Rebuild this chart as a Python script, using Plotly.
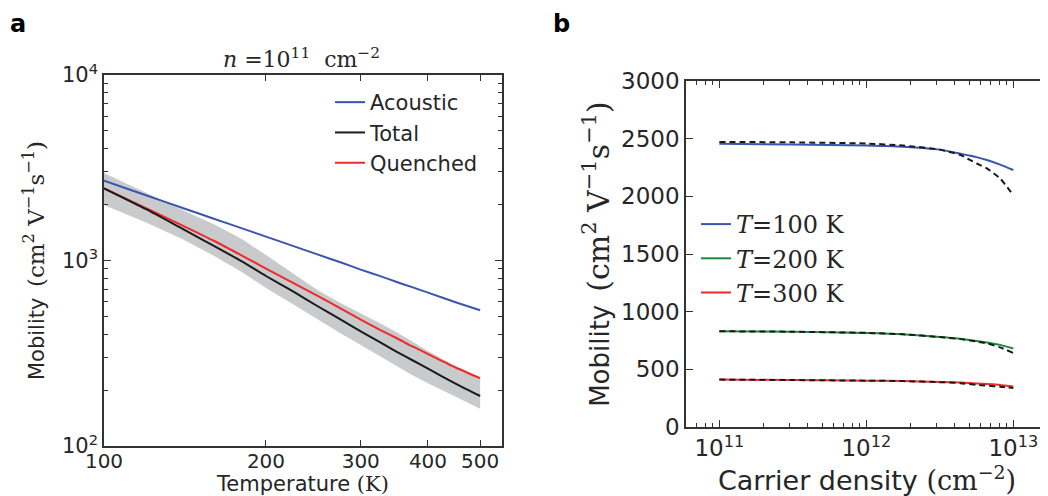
import plotly.graph_objects as go

# ---------------- Panel a data ----------------
temperature = [100, 120, 140, 160, 180, 200, 225, 250, 275, 300, 325, 350, 375, 400, 450, 500]
mu_acoustic = [2690, 2240, 1920, 1680, 1495, 1345, 1195, 1075, 978, 893, 826, 766, 716, 671, 596, 539]
mu_total = [2450, 1884, 1480, 1200, 992, 825, 679, 565, 482, 415, 364, 322, 289, 261, 217, 186]
mu_quenched = [2450, 1909, 1543, 1278, 1067, 904, 755, 643, 552, 480, 424, 381, 343, 313, 265, 232]
band_upper = [2966, 2300, 1870, 1570, 1310, 1070, 850, 690, 590, 520, 460, 410, 365, 325, 270, 235]
band_lower = [1990, 1600, 1300, 1060, 870, 710, 580, 480, 405, 350, 305, 268, 240, 218, 185, 159]

# ---------------- Panel b data ----------------
density = [1e11, 3.16e11, 1e12, 1.78e12, 3.16e12, 4.37e12, 5.62e12, 6.61e12, 8.13e12, 1e13]
mu_100K = [2455, 2450, 2440, 2430, 2405, 2370, 2340, 2315, 2275, 2228]
mu_100K_fit = [2472, 2468, 2458, 2440, 2405, 2358, 2285, 2242, 2155, 2010]
mu_200K = [830, 826, 816, 805, 781, 765, 746, 733, 712, 680]
mu_200K_fit = [830, 826, 816, 804, 780, 762, 741, 725, 690, 642]
mu_300K = [411, 407, 402, 398, 391, 385, 377, 372, 364, 351]
mu_300K_fit = [411, 407, 402, 398, 389, 380, 365, 358, 350, 338]

a_xticks = [100, 200, 300, 400, 500]
a_yticks = [100, 1000, 10000]
a_yticktext = ["10<sup>2</sup>", "10<sup>3</sup>", "10<sup>4</sup>"]
b_xticks = [1e11, 1e12, 1e13]
b_xticktext = ["10<sup>11</sup>", "10<sup>12</sup>", "10<sup>13</sup>"]
b_yticks = [0, 500, 1000, 1500, 2000, 2500, 3000]

BLUE = "#3a55b0"
RED = "#ee2a2a"
GREEN = "#1b8a3c"
BLACK = "#1a1a1a"
TXT = "#262626"
SANS = "DejaVu Sans"
SERIF = "DejaVu Serif"

OFF = 8  # page body margin
W, H = 1040, 488

fig = go.Figure()

# uncertainty band
fig.add_trace(go.Scatter(x=temperature, y=band_lower, mode="lines", line=dict(width=0),
                         showlegend=False, hoverinfo="skip", xaxis="x", yaxis="y"))
fig.add_trace(go.Scatter(x=temperature, y=band_upper, mode="lines", line=dict(width=0),
                         fill="tonexty", fillcolor="rgba(192,193,195,0.85)",
                         showlegend=False, hoverinfo="skip", xaxis="x", yaxis="y"))
fig.add_trace(go.Scatter(x=temperature, y=mu_acoustic, mode="lines", name="Acoustic",
                         line=dict(color=BLUE, width=2, shape="spline", smoothing=0.6),
                         legend="legend", legendrank=1, xaxis="x", yaxis="y"))
fig.add_trace(go.Scatter(x=temperature, y=mu_quenched, mode="lines", name="Quenched",
                         line=dict(color=RED, width=2, shape="spline", smoothing=0.6),
                         legend="legend", legendrank=3, xaxis="x", yaxis="y"))
fig.add_trace(go.Scatter(x=temperature, y=mu_total, mode="lines", name="Total",
                         line=dict(color=BLACK, width=2, shape="spline", smoothing=0.6),
                         legend="legend", legendrank=2, xaxis="x", yaxis="y"))

# panel b
series_b = [
    (mu_100K, mu_100K_fit, BLUE, "<i>T</i>=100 K"),
    (mu_200K, mu_200K_fit, GREEN, "<i>T</i>=200 K"),
    (mu_300K, mu_300K_fit, RED, "<i>T</i>=300 K"),
]
for i, (solid, dashed, col, nm) in enumerate(series_b):
    fig.add_trace(go.Scatter(x=density, y=solid, mode="lines", name=nm,
                             line=dict(color=col, width=2, shape="spline", smoothing=0.6),
                             legend="legend2", legendrank=i + 1, xaxis="x2", yaxis="y2"))
for solid, dashed, col, nm in series_b:
    fig.add_trace(go.Scatter(x=density, y=dashed, mode="lines", showlegend=False,
                             line=dict(color=BLACK, width=2, dash="6px,4px",
                                       shape="spline", smoothing=0.6),
                             xaxis="x2", yaxis="y2"))


def px_x(v):
    return (v - OFF) / W


def px_y(v):
    return 1 - (v - OFF) / H


axis_common = dict(showline=True, linecolor="#333333", linewidth=1.5, ticks="inside",
                   tickcolor="#333333", tickwidth=1.2, showgrid=False, zeroline=False,
                   automargin=False)


def mob_title(size):
    return ('Mobility\u2002<span style="font-family:%s;font-size:%dpx">(cm<sup>2</sup> '
            'V<sup>−1</sup>s<sup>−1</sup>)</span>' % (SERIF, size))


fig.update_layout(
    width=W, height=H,
    margin=dict(l=0, r=0, t=0, b=0),
    paper_bgcolor="white", plot_bgcolor="white",
    font=dict(family=SANS, color=TXT),
    xaxis=dict(axis_common, type="log", domain=[px_x(104), px_x(502)],
               range=[2, 2.7396], tickmode="array", tickvals=a_xticks,
               ticktext=[str(v) for v in a_xticks], ticklen=6, mirror="allticks",
               tickfont=dict(size=20, color=TXT), ticklabelstandoff=-4,
               title=dict(text='Temperature <span style="font-family:%s">(K)</span>' % SERIF,
                          font=dict(size=21, color=TXT), standoff=4),
               anchor="y"),
    yaxis=dict(axis_common, type="log", domain=[px_y(446), px_y(75)],
               range=[2, 4], tickmode="array", tickvals=a_yticks, ticktext=a_yticktext,
               ticklen=7, mirror="allticks", tickfont=dict(size=21, color=TXT),
               minor=dict(ticks="inside", ticklen=4, tickcolor="#333333",
                          tickvals=[200, 300, 400, 500, 600, 700, 800, 900,
                                    2000, 3000, 4000, 5000, 6000, 7000, 8000, 9000]),
               title=dict(text=mob_title(23), font=dict(size=21, color=TXT), standoff=12),
               anchor="x"),
    xaxis2=dict(axis_common, type="log", domain=[px_x(686), 1.0],
                range=[10.773, 13.236], tickmode="array", tickvals=b_xticks,
                ticktext=b_xticktext, ticklen=7, mirror="allticks",
                tickfont=dict(size=23, color=TXT),
                minor=dict(ticks="inside", ticklen=4, tickcolor="#333333",
                           tickvals=[m * 10 ** e for e in (10, 11, 12) for m in range(2, 10)]),
                title=dict(text='Carrier density <span style="font-family:%s">(cm<sup>−2</sup>)</span>' % SERIF,
                           font=dict(size=27, color=TXT), standoff=4),
                anchor="y2"),
    yaxis2=dict(axis_common, domain=[px_y(427), px_y(81)], range=[0, 3000],
                tickmode="array", tickvals=b_yticks, ticklen=7, mirror=False,
                tickfont=dict(size=23, color=TXT),
                title=dict(text=mob_title(30), font=dict(size=26, color=TXT), standoff=4),
                anchor="x2"),
    legend=dict(x=px_x(330), y=px_y(82), xanchor="left", yanchor="top",
                bgcolor="rgba(0,0,0,0)", font=dict(size=21, color=TXT, family=SANS),
                itemwidth=30, tracegroupgap=0, traceorder="normal"),
    legend2=dict(x=px_x(696), y=px_y(202), xanchor="left", yanchor="top",
                 bgcolor="rgba(0,0,0,0)", font=dict(size=24, color=TXT, family=SERIF),
                 itemwidth=30, tracegroupgap=0, traceorder="normal"),
    annotations=[
        dict(text="<b>a</b>", x=px_x(18), y=px_y(24), xref="paper", yref="paper",
             xanchor="center", yanchor="middle",
             showarrow=False, font=dict(size=24, color="black", family=SANS)),
        dict(text="<b>b</b>", x=px_x(561), y=px_y(24), xref="paper", yref="paper",
             xanchor="center", yanchor="middle",
             showarrow=False, font=dict(size=24, color="black", family=SANS)),
        dict(text="<i>n</i> =10<sup>11</sup>  cm<sup>−2</sup>", x=px_x(301), y=px_y(58),
             xref="paper", yref="paper", showarrow=False, xanchor="center", yanchor="middle",
             font=dict(size=22, color=TXT, family=SERIF)),
    ],
)

fig.write_html("out.html")
